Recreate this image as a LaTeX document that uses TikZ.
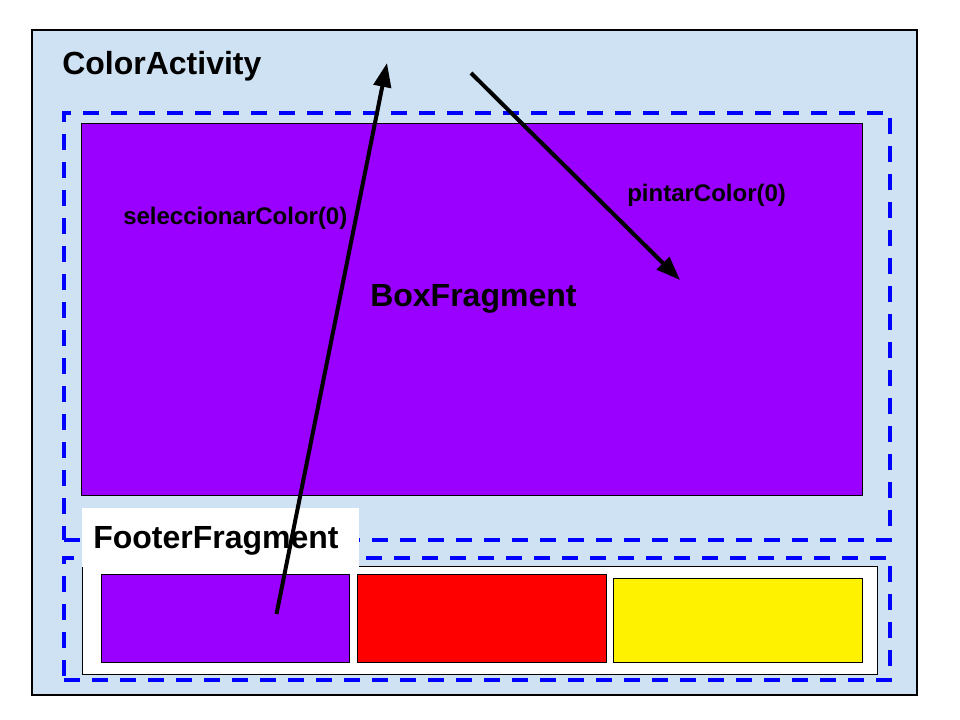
\documentclass[tikz,border=0pt]{standalone}
\usepackage{fontspec}
\setmainfont{Liberation Sans}
\usetikzlibrary{arrows.meta,fit}
\definecolor{actbg}{HTML}{CFE2F3}
\definecolor{purp}{HTML}{9900FF}
\definecolor{dashblue}{HTML}{0000FF}
\tikzset{
  region/.style={inner sep=0pt, outer sep=0pt, draw=black, line width=0.75pt},
  frag/.style={inner sep=0pt, outer sep=0pt, draw=dashblue, line width=3pt, dash pattern=on 12pt off 9pt},
  bigtxt/.style={font=\fontsize{24}{28}\selectfont\bfseries, inner sep=0pt, anchor=base west},
  smalltxt/.style={font=\fontsize{18}{21}\selectfont\bfseries, inner sep=0pt, anchor=base west},
  callarrow/.style={line width=3pt, -{Triangle[length=18pt,width=13pt]}}
}
\begin{document}
\begin{tikzpicture}[x=0.75pt,y=-0.75pt]
\useasboundingbox (0,0) rectangle (960,720);
\fill[white] (0,0) rectangle (960,720);
% activity
\node[region, fill=actbg, line width=1.1pt, fit={(32,30)(917,695)}] (act) {};
% box fragment
\node[frag, fit={(64,113)(890,540)}] (boxfrag) {};
\node[region, fill=purp, fit={(81,124)(862,495)}] (boxarea) {};
% footer fragment
\node[frag, fit={(64,558)(890,680)}] (footfrag) {};
\node[region, fill=white, fit={(82,566)(877,674)}] (footarea) {};
\node[region, fill=purp, fit={(101,574)(349,662)}] (cpurple) {};
\node[region, fill=red, fit={(357,574)(606,662)}] (cred) {};
\node[region, fill=yellow, fit={(613,578)(862,662)}] (cyellow) {};
\node[inner sep=0pt, outer sep=0pt, fill=white, fit={(82,508)(359,566.5)}] (footlabelbox) {};
% texts
\node[bigtxt] (tact) at (62,75) {ColorActivity};
\node[bigtxt] (tfoot) at (93,548) {FooterFragment};
\node[bigtxt] (tbox) at (370,306) {BoxFragment};
\node[smalltxt] (tsel) at (123,225) {seleccionarColor(0)};
\node[smalltxt] (tpin) at (627,202) {pintarColor(0)};
% arrows
\coordinate (selstart) at (276.5,614);
\coordinate (selend) at (387,63);
\coordinate (pinstart) at (471,73);
\coordinate (pinend) at (680,280);
\draw[callarrow] (selstart) -- (selend);
\draw[callarrow] (pinstart) -- (pinend);
\end{tikzpicture}
\end{document}
